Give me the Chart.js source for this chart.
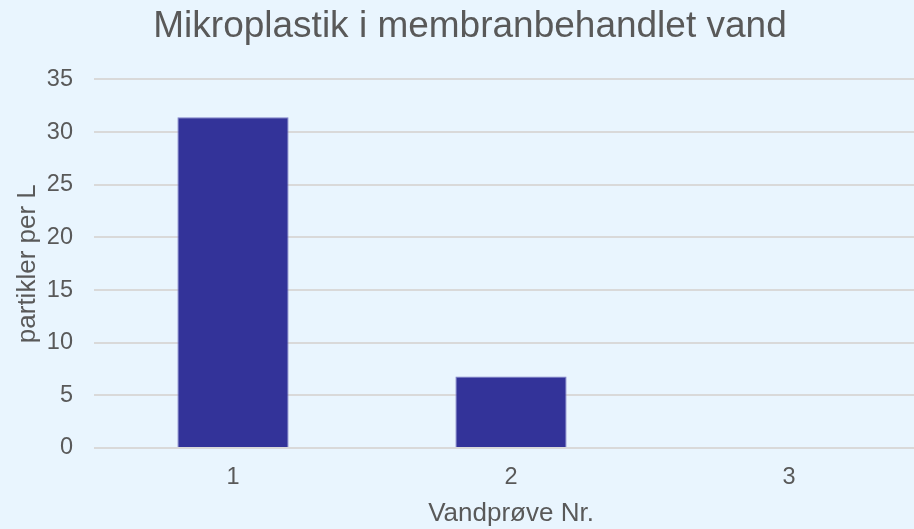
<!DOCTYPE html>
<html>
<head>
<meta charset="utf-8">
<script src="https://cdn.jsdelivr.net/npm/chart.js@4.4.1/dist/chart.umd.min.js"></script>
<style>
    html, body { margin: 0; padding: 0; background: #E9F5FE; overflow: hidden; }
    #wrap { width: 930px; height: 529px; }
</style>
</head>
<body>
<div id="wrap"><canvas id="mpChart"></canvas></div>
<script>
// Data
const categories = ['1', '2', '3'];
const particlesPerL = [31.4, 6.8, 0];
const yTicks = [0, 5, 10, 15, 20, 25, 30, 35];

const textColor = '#595959';
const font = 'Liberation Sans, Arial, sans-serif';

const ctx = document.getElementById('mpChart').getContext('2d');
const mpChart = new Chart(ctx, {
    type: 'bar',
    data: {
        labels: categories,
        datasets: [{
            label: 'partikler per L',
            data: particlesPerL,
            backgroundColor: '#333399',
            borderColor: '#8080C8',
            borderWidth: 1,
            barPercentage: 0.4,
            categoryPercentage: 1
        }]
    },
    options: {
        responsive: true,
        maintainAspectRatio: false,
        animation: false,
        layout: { padding: { left: 12, right: 2, top: 5, bottom: 0 } },
        plugins: {
            legend: { display: false },
            tooltip: { enabled: false },
            title: {
                display: true,
                text: 'Mikroplastik i membranbehandlet vand',
                color: textColor,
                font: { family: font, size: 37, weight: 'normal' },
                padding: { top: 0, bottom: 30 }
            }
        },
        scales: {
            x: {
                afterFit: (axis) => { axis.height = 81; },
                grid: { display: false, drawTicks: false },
                border: { display: false },
                ticks: { color: textColor, font: { family: font, size: 23.5 }, padding: 15 },
                title: {
                    display: true,
                    text: 'Vandprøve Nr.',
                    color: textColor,
                    font: { family: font, size: 26 },
                    padding: { top: 6, bottom: 0 }
                }
            },
            y: {
                min: 0,
                max: 35,
                afterFit: (axis) => { axis.width = 82; },
                afterBuildTicks: (axis) => { axis.ticks = yTicks.map(v => ({ value: v })); },
                grid: { color: '#D9D9D9', lineWidth: 2, drawTicks: false },
                border: { display: false },
                ticks: { color: textColor, font: { family: font, size: 23.5 }, padding: 21 },
                title: {
                    display: true,
                    text: 'partikler per L',
                    color: textColor,
                    font: { family: font, size: 26 },
                    padding: { top: 0, bottom: 4 }
                }
            }
        }
    }
});
</script>
</body>
</html>
